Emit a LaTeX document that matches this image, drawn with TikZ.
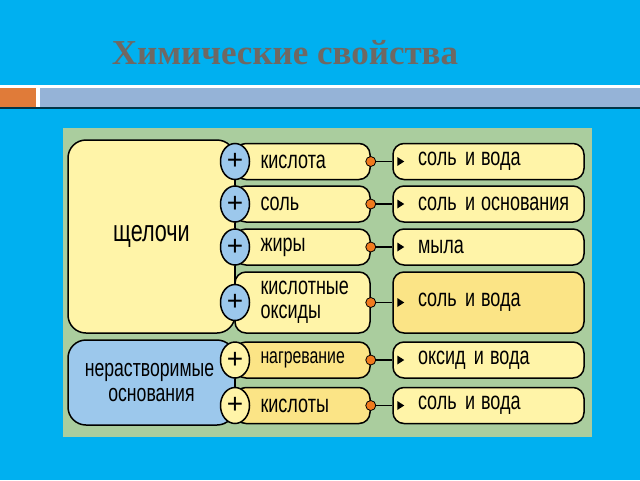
\documentclass[tikz,border=0pt]{standalone}
\usepackage{fontspec}
\usepackage{tikz}
\usetikzlibrary{calc}
\usetikzlibrary{shapes.geometric}
\newfontfamily\narrowfont[FakeStretch=0.72]{Liberation Sans}
\newfontfamily\plusfont{Liberation Sans}
\newfontfamily\titlefont{Liberation Serif}
\definecolor{bgblue}{HTML}{00B0F0}
\definecolor{panelgreen}{HTML}{AACD9E}
\definecolor{lyellow}{HTML}{FFF4A8}
\definecolor{gyellow}{HTML}{FBE486}
\definecolor{lblue}{HTML}{9CC8EC}
\definecolor{dotorange}{HTML}{F07A1E}
\definecolor{titlegrey}{HTML}{6F6863}
\definecolor{bandgrey}{HTML}{95B3D7}
\definecolor{bandorange}{HTML}{E07B39}

\begin{document}
\begin{tikzpicture}[x=1pt, y=-1pt, line width=1.5pt,
  box/.style = {draw, rounded corners=11pt, fill=lyellow, font=\narrowfont\fontsize{25}{25}\selectfont},
  midbox/.style = {box, minimum width=135pt, minimum height=36pt, text width=84pt, align=left, inner xsep=0pt},
  resbox/.style = {box, minimum width=191pt, minimum height=36pt, text width=141pt, align=left, inner xsep=0pt},
  plus/.style = {ellipse, draw, fill=lblue, minimum width=29pt, minimum height=36pt, inner sep=0pt, font=\plusfont\fontsize{28}{28}\selectfont},
  dot/.style = {circle, draw, line width=0.8pt, fill=dotorange, minimum size=10pt, inner sep=0pt}]
  %background
  \fill [bgblue] (0, 0) rectangle (640, 480);
  \useasboundingbox (0, 0) rectangle (640, 480);
  \node [titlegrey, font=\titlefont\bfseries\fontsize{35}{35}\selectfont] (title) at (285, 53) {Химические свойства};
  %band
  \fill [white] (0, 85) rectangle (640, 108);
  \fill [bandorange] (0, 88) rectangle (36, 107);
  \fill [bandgrey] (40, 88) rectangle (640, 107);
  \fill [black!70!bgblue] (0, 107) rectangle (640, 109);
  %panel
  \fill [panelgreen] (63, 128) rectangle (592, 437);

  %left boxes
  \node [box, rounded corners=18pt, minimum width=167pt, minimum height=193pt, font=\narrowfont\fontsize{30}{30}\selectfont] (alk) at (151.5, 236.5) {щелочи};
  \node [box, rounded corners=18pt, fill=lblue, minimum width=167pt, minimum height=85pt, align=center, font=\narrowfont\fontsize{24.5}{25}\selectfont] (ins) at (151.5, 382.5) {\hspace*{-4pt}нерастворимые\\основания};

  %middle boxes
  \node [midbox] (m1) at (302.5, 161.5) {кислота};
  \node [midbox] (m2) at (302.5, 204) {соль};
  \node [midbox] (m3) at (302.5, 247) {жиры};
  \node [midbox, minimum height=61pt, font=\narrowfont\fontsize{25}{24}\selectfont] (m4) at (302.5, 302.5) {кислотные\\оксиды};
  \node [midbox, fill=gyellow, font=\narrowfont\fontsize{22}{22}\selectfont] (m5) at (302.5, 360) {нагревание};
  \node [midbox, fill=gyellow] (m6) at (302.5, 405.5) {кислоты};

  %result boxes
  \node [resbox] (r1) at (488.5, 161.5) {\mbox{соль и\hspace{6pt}вода}};
  \node [resbox] (r2) at (488.5, 204) {\mbox{соль и\hspace{6pt}основания}};
  \node [resbox] (r3) at (488.5, 247) {мыла};
  \node [resbox, fill=gyellow, minimum height=61pt] (r4) at (488.5, 302.5) {\mbox{соль и\hspace{6pt}вода}};
  \node [resbox] (r5) at (488.5, 360) {\mbox{оксид и\hspace{6pt}вода}};
  \node [resbox] (r6) at (488.5, 405.5) {\mbox{соль и\hspace{6pt}вода}};

  %plus signs
  \node [plus] (p1) at (235, 161.5) {+};
  \node [plus] (p2) at (235, 204) {+};
  \node [plus] (p3) at (235, 247) {+};
  \node [plus] (p4) at (235, 302.5) {+};
  \node [plus, fill=lyellow] (p5) at (235, 360) {+};
  \node [plus, fill=lyellow] (p6) at (235, 405.5) {+};
  \draw (p1) -- (p2);
  \draw (p2) -- (p3);
  \draw (p3) -- (p4);
  \draw (p5) -- (p6);

  %dots and links
  \node [dot] (d1) at (m1.east) {};
  \node [dot] (d2) at (m2.east) {};
  \node [dot] (d3) at (m3.east) {};
  \node [dot] (d4) at (m4.east) {};
  \node [dot] (d5) at (m5.east) {};
  \node [dot] (d6) at (m6.east) {};
  \draw (d1) -- (r1.west);
  \draw (d2) -- (r2.west);
  \draw (d3) -- (r3.west);
  \draw (d4) -- (r4.west);
  \draw (d5) -- (r5.west);
  \draw (d6) -- (r6.west);
  %arrow heads
  \fill ($(r1.west)+(5, -4.5)$) -- ++(7, 4.5) -- ++(-7, 4.5) -- cycle;
  \fill ($(r2.west)+(5, -4.5)$) -- ++(7, 4.5) -- ++(-7, 4.5) -- cycle;
  \fill ($(r3.west)+(5, -4.5)$) -- ++(7, 4.5) -- ++(-7, 4.5) -- cycle;
  \fill ($(r4.west)+(5, -4.5)$) -- ++(7, 4.5) -- ++(-7, 4.5) -- cycle;
  \fill ($(r5.west)+(5, -4.5)$) -- ++(7, 4.5) -- ++(-7, 4.5) -- cycle;
  \fill ($(r6.west)+(5, -4.5)$) -- ++(7, 4.5) -- ++(-7, 4.5) -- cycle;
\end{tikzpicture}
\end{document}
